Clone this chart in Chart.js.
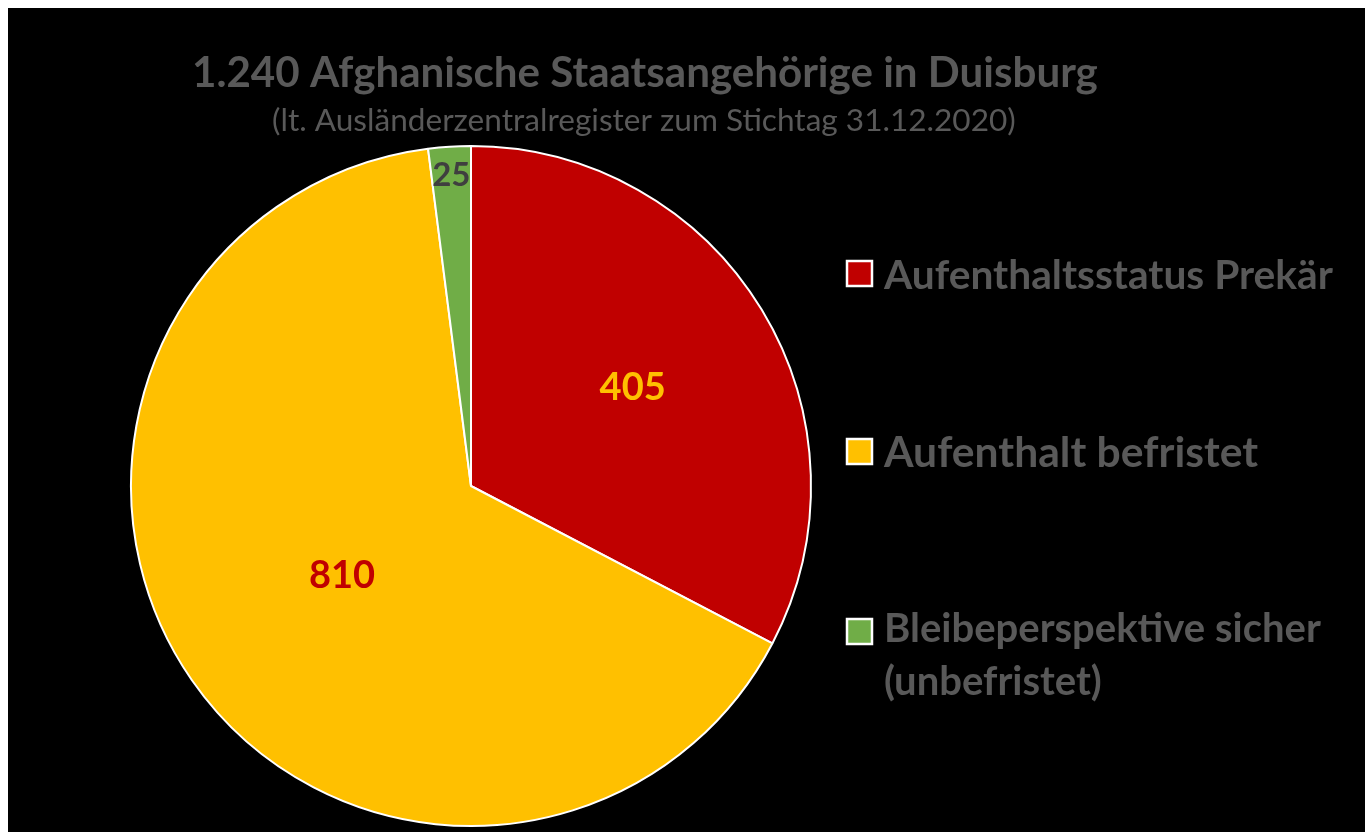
<!DOCTYPE html>
<html lang="de">
<head>
<meta charset="utf-8">
<title>Afghanische Staatsangehörige in Duisburg</title>
<script src="https://cdn.jsdelivr.net/npm/chart.js@4/dist/chart.umd.min.js"></script>
<style>
  html, body { margin: 0; padding: 0; background: #fff; }
  #frame { position: absolute; left: 8px; top: 8px; width: 1357px; height: 824px; background: #000; }
  #chart { display: block; }
</style>
</head>
<body>
<div id="frame"><canvas id="chart" width="1357" height="824"></canvas></div>
<script>
// data
const title = "1.240 Afghanische Staatsangehörige in Duisburg";
const subtitle = "(lt. Ausländerzentralregister zum Stichtag 31.12.2020)";
const categories = ["Aufenthaltsstatus Prekär", "Aufenthalt befristet", "Bleibeperspektive sicher (unbefristet)"];
const legendLines = [["Aufenthaltsstatus Prekär"], ["Aufenthalt befristet"], ["Bleibeperspektive sicher", "(unbefristet)"]];
const values = [405, 810, 25];

const sliceColors = ["#C00000", "#FFC000", "#70AD47"];
const labelColors = ["#FFC000", "#C00000", "#3F3F3F"];
const labelRadius = [0.556, 0.462, 0.915]; // fraction of outer radius
const textGray = "#595959";
const FONT = "Lato, 'Open Sans', sans-serif";

// size a font so the text covers the given width
function fitFont(ctx, text, weight, width) {
  ctx.font = weight + " 100px " + FONT;
  const size = 100 * width / ctx.measureText(text).width;
  return weight + " " + size.toFixed(2) + "px " + FONT;
}

const overlay = {
  id: "overlay",
  afterDatasetsDraw(chart) {
    const ctx = chart.ctx;
    const meta = chart.getDatasetMeta(0);
    ctx.save();
    ctx.textAlign = "center";
    ctx.textBaseline = "middle";
    meta.data.forEach((arc, i) => {
      const mid = (arc.startAngle + arc.endAngle) / 2;
      const r = arc.outerRadius * labelRadius[i];
      ctx.font = "bold " + (i === 2 ? 33 : 38) + "px " + FONT;
      ctx.fillStyle = labelColors[i];
      ctx.fillText(String(values[i]), arc.x + Math.cos(mid) * r, arc.y + Math.sin(mid) * r);
    });
    ctx.restore();
  },
  afterDraw(chart) {
    const ctx = chart.ctx;
    ctx.save();
    ctx.textBaseline = "alphabetic";
    ctx.textAlign = "left";
    ctx.fillStyle = textGray;
    // title (page coords minus frame offset 8)
    ctx.font = fitFont(ctx, title, "bold", 906);
    ctx.fillText(title, 192 - 8, 87 - 8);
    ctx.font = fitFont(ctx, subtitle, "normal", 744);
    ctx.fillText(subtitle, 272 - 8, 131 - 8);

    // legend
    const boxTop = [261, 439, 619];
    const baselines = [[289], [467], [642, 695]];
    const textWidths = [449, 374, 437];
    legendLines.forEach((lines, i) => {
      ctx.fillStyle = sliceColors[i];
      ctx.strokeStyle = "#fff";
      ctx.lineWidth = 2.5;
      ctx.fillRect(847 - 8, boxTop[i] - 8, 25, 25);
      ctx.strokeRect(847 - 8, boxTop[i] - 8, 25, 25);
      ctx.fillStyle = textGray;
      ctx.font = fitFont(ctx, lines[0], "bold", textWidths[i]);
      lines.forEach((line, j) => ctx.fillText(line, 884 - 8, baselines[i][j] - 8));
    });
    ctx.restore();
  }
};

new Chart(document.getElementById("chart"), {
  type: "pie",
  data: {
    labels: categories,
    datasets: [{
      data: values,
      backgroundColor: sliceColors,
      borderColor: "#ffffff",
      borderWidth: 2
    }]
  },
  options: {
    responsive: false,
    animation: false,
    layout: { padding: { left: 122, right: 553, top: 137, bottom: 5 } },
    plugins: {
      legend: { display: false },
      title: { display: false },
      tooltip: { enabled: false }
    }
  },
  plugins: [overlay]
});
</script>
</body>
</html>
